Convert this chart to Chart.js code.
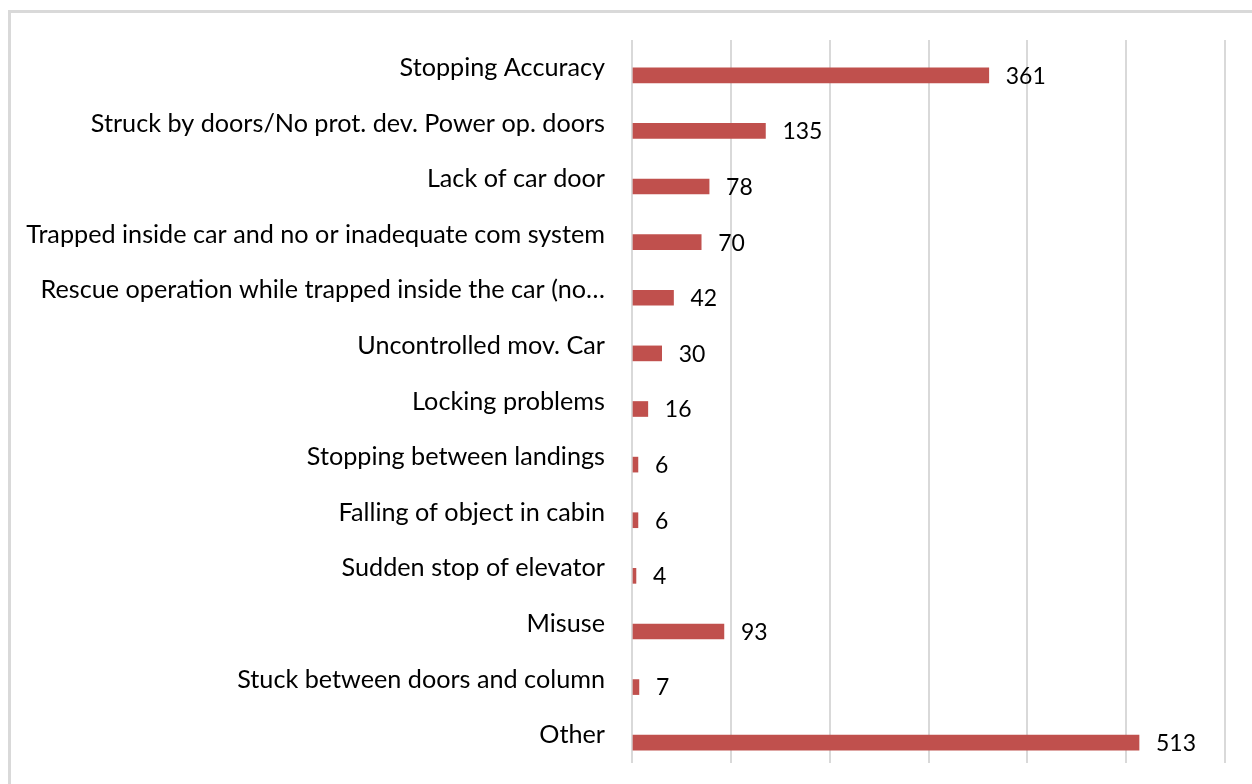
<!DOCTYPE html>
<html>
<head>
<meta charset="utf-8">
<script src="https://cdn.jsdelivr.net/npm/chart.js@4.4.1/dist/chart.umd.min.js"></script>
<style>
  body { margin: 0; background: #fff; }
  #wrap { position: relative; width: 1252px; height: 784px; overflow: hidden; }
  #frame { position: absolute; left: 8px; top: 10px; width: 1300px; height: 800px;
           border-top: 3px solid #d9d9d9; border-left: 3px solid #d9d9d9; }
  canvas { position: absolute; left: 0; top: 0; }
</style>
</head>
<body>
<div id="wrap">
  <div id="frame"></div>
  <canvas id="chart" width="1252" height="784"></canvas>
</div>
<script>
var categories = [
  "Stopping Accuracy",
  "Struck by doors/No prot. dev. Power op. doors",
  "Lack of car door",
  "Trapped inside car and no or inadequate com system",
  "Rescue operation while trapped inside the car (no\u2026",
  "Uncontrolled mov. Car",
  "Locking problems",
  "Stopping between landings",
  "Falling of object in cabin",
  "Sudden stop of elevator",
  "Misuse",
  "Stuck between doors and column",
  "Other"
];
var counts = [361, 135, 78, 70, 42, 30, 16, 6, 6, 4, 93, 7, 513];
var axisMax = 600;
var axisStep = 100;

var fontFamily = "Lato, 'Open Sans', sans-serif";

// pick a font size so the longest label is as wide as in the picture
function fitSize(text, width) {
  var c = document.createElement('canvas').getContext('2d');
  c.font = '100px ' + fontFamily;
  return 100 * width / c.measureText(text).width;
}
var labelSize = fitSize(categories[3], 579);
var valueSize = Math.min(labelSize, fitSize("361", 40));

var valueLabels = {
  id: 'valueLabels',
  afterDatasetsDraw: function (chart) {
    var ctx = chart.ctx;
    var meta = chart.getDatasetMeta(1);
    ctx.save();
    ctx.font = valueSize + 'px ' + fontFamily;
    ctx.fillStyle = '#000';
    ctx.textAlign = 'left';
    ctx.textBaseline = 'middle';
    meta.data.forEach(function (bar, i) {
      ctx.fillText(counts[i], bar.x + 17, bar.y + 1);
    });
    ctx.restore();
  }
};

var ctx = document.getElementById('chart').getContext('2d');
new Chart(ctx, {
  type: 'bar',
  data: {
    labels: categories,
    datasets: [{
      label: 'spacer', // empty series, pushes the bars below the labels like the original
      data: categories.map(function () { return null; }),
      backgroundColor: 'rgba(0,0,0,0)',
      barThickness: 15
    }, {
      label: 'Accidents',
      data: counts,
      backgroundColor: '#C0504D',
      borderWidth: 0,
      barThickness: 15
    }]
  },
  options: {
    indexAxis: 'y',
    responsive: false,
    animation: false,
    devicePixelRatio: 1,
    layout: { padding: { left: 0, right: 27, top: 40, bottom: 21 } },
    plugins: {
      legend: { display: false },
      tooltip: { enabled: false }
    },
    scales: {
      x: {
        min: 0,
        max: axisMax,
        ticks: { display: false, stepSize: axisStep },
        grid: { color: '#d9d9d9', lineWidth: 2, drawTicks: false },
        border: { display: false },
        afterFit: function (scale) { scale.height = 0; }
      },
      y: {
        grid: { display: false },
        border: { display: false },
        ticks: {
          color: '#000',
          padding: 19,
          font: { family: fontFamily, size: labelSize }
        },
        afterFit: function (scale) {
          scale.width = 632;
          scale.paddingTop = 0;
          scale.paddingBottom = 0;
        }
      }
    }
  },
  plugins: [valueLabels]
});
</script>
</body>
</html>
